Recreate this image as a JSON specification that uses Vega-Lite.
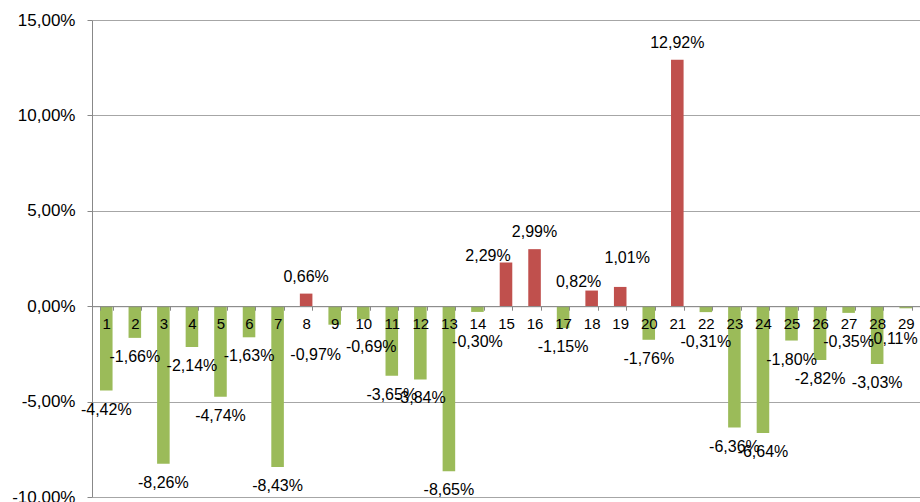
{
  "$schema": "https://vega.github.io/schema/vega-lite/v6.json",
  "width": 828,
  "height": 477,
  "autosize": "none",
  "padding": {"left": 92, "top": 20, "right": 0, "bottom": 5},
  "background": "white",
  "config": {
    "locale": {"number": {"decimal": ",", "thousands": ".", "grouping": [3], "currency": ["", "€"], "minus": "-"}},
    "view": {"stroke": null},
    "font": "Liberation Sans",
    "text": {"font": "Liberation Sans", "fontSize": 16, "color": "#000000", "baseline": "middle"}
  },
  "data": {
    "values": [
      {"c": 1, "v": -0.0442}, {"c": 2, "v": -0.0166}, {"c": 3, "v": -0.0826}, {"c": 4, "v": -0.0214},
      {"c": 5, "v": -0.0474}, {"c": 6, "v": -0.0163}, {"c": 7, "v": -0.0843}, {"c": 8, "v": 0.0066},
      {"c": 9, "v": -0.0097}, {"c": 10, "v": -0.0069}, {"c": 11, "v": -0.0365}, {"c": 12, "v": -0.0384},
      {"c": 13, "v": -0.0865}, {"c": 14, "v": -0.0030}, {"c": 15, "v": 0.0229}, {"c": 16, "v": 0.0299},
      {"c": 17, "v": -0.0115}, {"c": 18, "v": 0.0082}, {"c": 19, "v": 0.0101}, {"c": 20, "v": -0.0176},
      {"c": 21, "v": 0.1292}, {"c": 22, "v": -0.0031}, {"c": 23, "v": -0.0636}, {"c": 24, "v": -0.0664},
      {"c": 25, "v": -0.0180}, {"c": 26, "v": -0.0282}, {"c": 27, "v": -0.0035}, {"c": 28, "v": -0.0303},
      {"c": 29, "v": -0.0011}
    ]
  },
  "encoding": {
    "x": {
      "field": "c", "type": "ordinal",
      "scale": {"paddingInner": 0.56, "paddingOuter": 0.28},
      "axis": {
        "title": null, "orient": "bottom", "offset": -190.8, "labelAngle": 0, "zindex": 1,
        "domainColor": "#888888", "tickColor": "#888888", "tickSize": 4, "tickBand": "extent",
        "labelFont": "Liberation Sans", "labelFontSize": 15, "labelColor": "#000000", "labelPadding": 6,
        "grid": false
      }
    },
    "text": {"field": "v", "type": "quantitative", "format": ".2%"}
  },
  "layer": [
    {
      "mark": {"type": "bar"},
      "encoding": {
        "y": {
          "field": "v", "type": "quantitative",
          "scale": {"domain": [-0.1, 0.15], "nice": false, "zero": false},
          "axis": {
            "title": null, "format": ".2%", "values": [-0.1, -0.05, 0, 0.05, 0.1, 0.15],
            "gridColor": "#a6a6a6", "gridWidth": 1, "domainColor": "#888888", "tickColor": "#888888",
            "tickSize": 5, "labelPadding": 12, "labelFont": "Liberation Sans", "labelFontSize": 17,
            "labelColor": "#000000"
          }
        },
        "y2": {"datum": 0},
        "text": null,
        "color": {"condition": {"test": "datum.v > 0", "value": "#C0504D"}, "value": "#9BBB59"}
      }
    },
    {
      "transform": [{"filter": "datum.v < -0.009 && datum.c != 9"}],
      "mark": {"type": "text", "dy": 19},
      "encoding": {"y": {"field": "v", "type": "quantitative"}}
    },
    {
      "transform": [{"filter": "datum.c == 9"}],
      "mark": {"type": "text", "dy": 30, "dx": -19},
      "encoding": {"y": {"field": "v", "type": "quantitative"}}
    },
    {
      "transform": [{"filter": "datum.v >= -0.009 && datum.v < 0 && datum.c != 29 && datum.c != 10"}],
      "mark": {"type": "text", "dy": 19},
      "encoding": {"y": {"datum": -0.009}}
    },
    {
      "transform": [{"filter": "datum.c == 10"}],
      "mark": {"type": "text", "dy": 24, "dx": 8},
      "encoding": {"y": {"datum": -0.009}}
    },
    {
      "transform": [{"filter": "datum.c == 29"}],
      "mark": {"type": "text", "align": "right", "dx": 12, "dy": 16},
      "encoding": {"y": {"datum": -0.009}}
    },
    {
      "transform": [{"filter": "datum.v > 0 && datum.c != 15 && datum.c != 18 && datum.c != 19"}],
      "mark": {"type": "text", "dy": -17},
      "encoding": {"y": {"field": "v", "type": "quantitative"}}
    },
    {
      "transform": [{"filter": "datum.c == 15"}],
      "mark": {"type": "text", "dy": -7, "dx": -18},
      "encoding": {"y": {"field": "v", "type": "quantitative"}}
    },
    {
      "transform": [{"filter": "datum.c == 18"}],
      "mark": {"type": "text", "dy": -9, "dx": -13},
      "encoding": {"y": {"field": "v", "type": "quantitative"}}
    },
    {
      "transform": [{"filter": "datum.c == 19"}],
      "mark": {"type": "text", "dy": -29, "dx": 7},
      "encoding": {"y": {"field": "v", "type": "quantitative"}}
    }
  ]
}
